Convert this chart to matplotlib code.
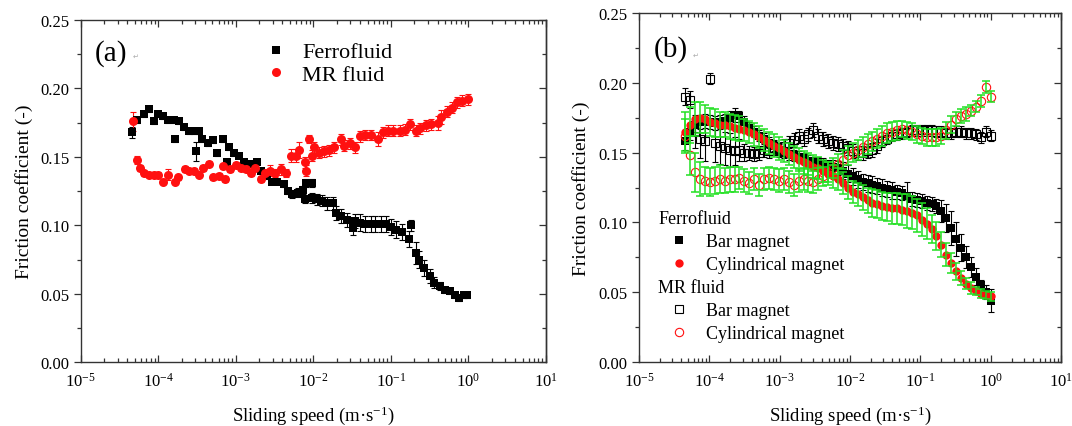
import numpy as np
import matplotlib
matplotlib.use("Agg")
import matplotlib.pyplot as plt
from matplotlib.ticker import (FixedLocator, LogFormatterMathtext, NullFormatter,
                               MultipleLocator, FormatStrFormatter)

# Times-like look for everything, including the 10^x tick labels
plt.rcParams['font.family'] = ['Liberation Serif', 'DejaVu Serif']
plt.rcParams['mathtext.fontset'] = 'custom'
plt.rcParams['mathtext.rm'] = 'Liberation Serif'
plt.rcParams['mathtext.it'] = 'Liberation Serif:italic'
plt.rcParams['mathtext.bf'] = 'Liberation Serif:bold'

# decades shown on the speed axis
decades = [1e-5, 1e-4, 1e-3, 1e-2, 1e-1, 1e0, 1e1]

# ---------------- panel (a): log10 of sliding speed, friction, error ----------------
ff_a_exp = [-4.34, -4.27, -4.19, -4.12, -4.06, -4.00, -3.94, -3.87, -3.80, -3.78,
            -3.73, -3.67, -3.60, -3.54, -3.51, -3.48, -3.43, -3.36, -3.29, -3.24,
            -3.16, -3.11, -3.09, -3.02, -2.96, -2.89, -2.82, -2.73, -2.67, -2.60,
            -2.53, -2.47, -2.38, -2.33, -2.27, -2.20, -2.13, -2.11, -2.09, -2.02,
            -2.02, -1.95, -1.89, -1.82, -1.75, -1.71, -1.64, -1.57, -1.49, -1.46,
            -1.40, -1.33, -1.26, -1.20, -1.13, -1.06, -1.00, -0.93, -0.86, -0.77,
            -0.74, -0.68, -0.64, -0.57, -0.50, -0.44, -0.37, -0.30, -0.24, -0.17,
            -0.125, -0.06, -0.015]
ff_a_mu = [0.168, 0.177, 0.181, 0.185, 0.176, 0.181, 0.180, 0.177, 0.177, 0.163,
           0.176, 0.172, 0.169, 0.169, 0.154, 0.169, 0.163, 0.160, 0.162, 0.153,
           0.163, 0.146, 0.157, 0.153, 0.151, 0.146, 0.145, 0.146, 0.140, 0.136,
           0.132, 0.132, 0.130, 0.125, 0.123, 0.124, 0.126, 0.119, 0.131, 0.131,
           0.120, 0.119, 0.118, 0.116, 0.116, 0.109, 0.107, 0.104, 0.098, 0.103,
           0.102, 0.101, 0.101, 0.101, 0.101, 0.101, 0.099, 0.097, 0.095, 0.090,
           0.100, 0.080, 0.075, 0.069, 0.063, 0.058, 0.056, 0.053, 0.052, 0.049,
           0.047, 0.049, 0.049]
ff_a_err = [0.004, 0.002, 0.002, 0.002, 0.002, 0.002, 0.002, 0.002, 0.002, 0.002,
            0.002, 0.002, 0.002, 0.002, 0.007, 0.002, 0.002, 0.002, 0.002, 0.002,
            0.002, 0.002, 0.002, 0.002, 0.002, 0.002, 0.002, 0.002, 0.002, 0.002,
            0.002, 0.002, 0.002, 0.002, 0.003, 0.003, 0.003, 0.003, 0.003, 0.003,
            0.004, 0.004, 0.004, 0.005, 0.005, 0.005, 0.005, 0.005, 0.005, 0.005,
            0.006, 0.006, 0.006, 0.006, 0.006, 0.006, 0.006, 0.006, 0.006, 0.006,
            0.004, 0.008, 0.006, 0.006, 0.005, 0.004, 0.003, 0.002, 0.002, 0.002,
            0.002, 0.002, 0.002]

mr_a_exp = [-4.33, -4.27, -4.24, -4.18, -4.12, -4.05, -4.00, -3.94, -3.87, -3.78,
            -3.74, -3.66, -3.60, -3.54, -3.47, -3.42, -3.35, -3.29, -3.22, -3.17,
            -3.14, -3.07, -3.00, -2.93, -2.87, -2.80, -2.75, -2.68, -2.62, -2.56,
            -2.49, -2.42, -2.35, -2.29, -2.22, -2.18, -2.11, -2.09, -2.05, -2.02,
            -1.99, -1.93, -1.86, -1.80, -1.73, -1.64, -1.60, -1.53, -1.46, -1.40,
            -1.33, -1.26, -1.17, -1.10, -1.04, -0.97, -0.88, -0.82, -0.75, -0.68,
            -0.62, -0.55, -0.48, -0.39, -0.35, -0.28, -0.21, -0.15, -0.08, -0.01]
mr_a_mu = [0.176, 0.148, 0.142, 0.138, 0.137, 0.137, 0.137, 0.132, 0.137, 0.132,
           0.135, 0.141, 0.140, 0.140, 0.137, 0.142, 0.145, 0.135, 0.136, 0.143,
           0.134, 0.141, 0.144, 0.142, 0.141, 0.138, 0.142, 0.134, 0.138, 0.140,
           0.138, 0.141, 0.138, 0.151, 0.151, 0.155, 0.146, 0.140, 0.163, 0.151,
           0.157, 0.153, 0.154, 0.155, 0.157, 0.163, 0.158, 0.160, 0.157, 0.165,
           0.166, 0.166, 0.163, 0.168, 0.169, 0.169, 0.169, 0.170, 0.174, 0.169,
           0.171, 0.173, 0.174, 0.175, 0.179, 0.183, 0.186, 0.190, 0.191, 0.192]
mr_a_err = [0.007, 0.003, 0.002, 0.002, 0.002, 0.002, 0.002, 0.002, 0.004, 0.002,
            0.002, 0.002, 0.002, 0.002, 0.002, 0.002, 0.002, 0.002, 0.002, 0.002,
            0.002, 0.002, 0.002, 0.002, 0.002, 0.002, 0.002, 0.002, 0.003, 0.004,
            0.003, 0.004, 0.003, 0.005, 0.005, 0.006, 0.004, 0.004, 0.003, 0.004,
            0.004, 0.004, 0.004, 0.004, 0.004, 0.004, 0.004, 0.004, 0.004, 0.004,
            0.004, 0.004, 0.005, 0.004, 0.004, 0.004, 0.004, 0.004, 0.004, 0.004,
            0.004, 0.004, 0.004, 0.005, 0.005, 0.004, 0.004, 0.004, 0.004, 0.004]

# ---------------- panel (b): four sweeps on a common speed grid ----------------
b_exp = [-4.34, -4.27, -4.20, -4.13, -4.06, -3.99, -3.92, -3.85, -3.78, -3.71,
         -3.64, -3.57, -3.50, -3.43, -3.36, -3.29, -3.22, -3.15, -3.08, -3.01,
         -2.94, -2.87, -2.80, -2.73, -2.66, -2.59, -2.52, -2.45, -2.38, -2.31,
         -2.24, -2.17, -2.10, -2.03, -1.96, -1.89, -1.82, -1.75, -1.68, -1.61,
         -1.54, -1.47, -1.40, -1.33, -1.26, -1.19, -1.12, -1.05, -0.98, -0.91,
         -0.84, -0.77, -0.70, -0.63, -0.56, -0.49, -0.42, -0.35, -0.28, -0.21,
         -0.14, -0.07, 0.00]

ff_bar_b = [0.158, 0.165, 0.170, 0.172, 0.173, 0.172, 0.171, 0.172, 0.173, 0.175,
            0.177, 0.176, 0.172, 0.168, 0.165, 0.162, 0.160, 0.157, 0.155, 0.152,
            0.150, 0.149, 0.148, 0.147, 0.146, 0.144, 0.143, 0.143, 0.142, 0.141,
            0.140, 0.139, 0.137, 0.135, 0.133, 0.131, 0.129, 0.128, 0.127, 0.126,
            0.125, 0.124, 0.123, 0.122, 0.121, 0.119, 0.117, 0.116, 0.115, 0.114,
            0.113, 0.112, 0.108, 0.103, 0.096, 0.088, 0.082, 0.075, 0.068, 0.061,
            0.055, 0.050, 0.044]
ff_bar_err_b = [0.006, 0.006, 0.005, 0.005, 0.005, 0.005, 0.005, 0.005, 0.005, 0.005,
                0.005, 0.004, 0.004, 0.004, 0.004, 0.004, 0.004, 0.004, 0.004, 0.004,
                0.004, 0.004, 0.004, 0.004, 0.004, 0.004, 0.004, 0.004, 0.004, 0.004,
                0.005, 0.005, 0.006, 0.006, 0.006, 0.006, 0.006, 0.006, 0.006, 0.006,
                0.006, 0.006, 0.006, 0.005, 0.005, 0.010, 0.005, 0.005, 0.005, 0.005,
                0.005, 0.005, 0.008, 0.010, 0.012, 0.012, 0.010, 0.008, 0.007, 0.006,
                0.004, 0.005, 0.008]

ff_cyl_b = [0.165, 0.170, 0.174, 0.175, 0.174, 0.172, 0.171, 0.170, 0.170, 0.169,
            0.168, 0.167, 0.166, 0.165, 0.163, 0.161, 0.159, 0.157, 0.155, 0.153,
            0.151, 0.149, 0.147, 0.145, 0.143, 0.142, 0.140, 0.139, 0.137, 0.135,
            0.133, 0.131, 0.128, 0.125, 0.122, 0.120, 0.118, 0.116, 0.114, 0.113,
            0.112, 0.111, 0.110, 0.110, 0.109, 0.108, 0.107, 0.105, 0.102, 0.099,
            0.095, 0.090, 0.084, 0.077, 0.071, 0.065, 0.060, 0.056, 0.053, 0.051,
            0.049, 0.048, 0.047]
ff_cyl_err_b = [0.014, 0.013, 0.012, 0.011, 0.010, 0.010, 0.010, 0.009, 0.009, 0.009,
                0.009, 0.009, 0.008, 0.008, 0.008, 0.008, 0.008, 0.008, 0.008, 0.008,
                0.008, 0.008, 0.008, 0.008, 0.008, 0.008, 0.008, 0.008, 0.008, 0.008,
                0.008, 0.008, 0.008, 0.008, 0.008, 0.008, 0.009, 0.009, 0.010, 0.010,
                0.010, 0.010, 0.011, 0.011, 0.011, 0.012, 0.012, 0.012, 0.012, 0.011,
                0.010, 0.010, 0.009, 0.008, 0.007, 0.006, 0.005, 0.004, 0.004, 0.003,
                0.003, 0.003, 0.003]

mr_bar_b = [0.190, 0.188, 0.165, 0.160, 0.158, 0.203, 0.157, 0.155, 0.153, 0.152,
            0.151, 0.152, 0.150, 0.150, 0.149, 0.150, 0.152, 0.151, 0.153, 0.152,
            0.155, 0.157, 0.159, 0.162, 0.160, 0.163, 0.166, 0.162, 0.160, 0.158,
            0.157, 0.156, 0.155, 0.153, 0.151, 0.150, 0.150, 0.151, 0.152, 0.155,
            0.158, 0.160, 0.162, 0.163, 0.164, 0.165, 0.166, 0.166, 0.166, 0.166,
            0.166, 0.165, 0.165, 0.164, 0.164, 0.165, 0.165, 0.164, 0.164, 0.163,
            0.161, 0.165, 0.162]
mr_bar_err_b = [0.006, 0.006, 0.012, 0.014, 0.014, 0.004, 0.014, 0.013, 0.012, 0.012,
                0.010, 0.008, 0.006, 0.005, 0.005, 0.005, 0.005, 0.005, 0.005, 0.005,
                0.005, 0.005, 0.005, 0.005, 0.005, 0.005, 0.005, 0.005, 0.005, 0.005,
                0.005, 0.005, 0.005, 0.005, 0.005, 0.005, 0.005, 0.005, 0.005, 0.005,
                0.004, 0.004, 0.004, 0.004, 0.004, 0.004, 0.004, 0.004, 0.004, 0.004,
                0.004, 0.004, 0.004, 0.004, 0.004, 0.004, 0.004, 0.004, 0.004, 0.004,
                0.004, 0.004, 0.004]

mr_cyl_b = [0.162, 0.148, 0.136, 0.131, 0.130, 0.129, 0.130, 0.131, 0.130, 0.131,
            0.131, 0.132, 0.130, 0.128, 0.131, 0.127, 0.131, 0.132, 0.131, 0.130,
            0.131, 0.129, 0.127, 0.130, 0.131, 0.130, 0.129, 0.131, 0.133, 0.136,
            0.139, 0.142, 0.145, 0.148, 0.150, 0.152, 0.154, 0.156, 0.158, 0.160,
            0.162, 0.164, 0.165, 0.166, 0.167, 0.166, 0.165, 0.163, 0.162, 0.161,
            0.161, 0.161, 0.162, 0.166, 0.170, 0.174, 0.176, 0.178, 0.180, 0.183,
            0.187, 0.197, 0.190]
mr_cyl_err_b = [0.012, 0.014, 0.014, 0.012, 0.010, 0.010, 0.010, 0.010, 0.009, 0.009,
                0.009, 0.008, 0.008, 0.008, 0.008, 0.008, 0.008, 0.008, 0.008, 0.008,
                0.008, 0.008, 0.008, 0.008, 0.008, 0.008, 0.008, 0.008, 0.007, 0.007,
                0.007, 0.007, 0.007, 0.007, 0.007, 0.007, 0.007, 0.007, 0.007, 0.007,
                0.007, 0.007, 0.007, 0.007, 0.006, 0.006, 0.006, 0.006, 0.006, 0.006,
                0.006, 0.006, 0.006, 0.006, 0.006, 0.005, 0.005, 0.005, 0.004, 0.004,
                0.004, 0.004, 0.004]

AXIS_COLOR = '#333333'
GREEN = '#22e022'
RED = '#ff1010'


def style_axes(ax, ylabelpad):
    # log speed axis, ticks inward on bottom/top
    ax.set_xscale('log')
    ax.set_xlim(decades[0], decades[-1])
    ax.set_ylim(0, 0.25)
    minor = [d * k for d in decades[:-1] for k in range(2, 10)]
    ax.xaxis.set_major_locator(FixedLocator(decades))
    ax.xaxis.set_minor_locator(FixedLocator(minor))
    ax.xaxis.set_major_formatter(LogFormatterMathtext())
    ax.xaxis.set_minor_formatter(NullFormatter())
    ax.yaxis.set_major_locator(MultipleLocator(0.05))
    ax.yaxis.set_minor_locator(MultipleLocator(0.025))
    ax.yaxis.set_major_formatter(FormatStrFormatter('%.2f'))
    ax.tick_params(axis='x', which='both', direction='in', top=True,
                   labelsize=12, pad=7, color=AXIS_COLOR, width=0.9)
    ax.tick_params(axis='y', which='both', direction='out', right=False,
                   labelsize=12, pad=3, color=AXIS_COLOR, width=0.9)
    ax.tick_params(which='major', length=5)
    ax.tick_params(which='minor', length=3)
    # right side ticks point inward (left side points out)
    sec = ax.secondary_yaxis('right')
    sec.yaxis.set_major_locator(MultipleLocator(0.05))
    sec.yaxis.set_minor_locator(MultipleLocator(0.025))
    sec.tick_params(which='both', direction='in', labelright=False,
                    color=AXIS_COLOR, width=0.9)
    sec.tick_params(which='major', length=5)
    sec.tick_params(which='minor', length=3)
    sec.spines['right'].set_color(AXIS_COLOR)
    sec.spines['right'].set_linewidth(1.0)
    for s in ax.spines.values():
        s.set_color(AXIS_COLOR)
        s.set_linewidth(1.0)
    ax.set_xlabel('Sliding speed (m·s$^{-1}$)', fontsize=13.5, labelpad=10)
    ax.set_ylabel('Friction coefficient (-)', fontsize=14, labelpad=ylabelpad)


fig = plt.figure(figsize=(10.72, 4.27), dpi=100)
ax_a = fig.add_axes([0.0753, 0.149, 0.434, 0.802])
ax_b = fig.add_axes([0.596, 0.150, 0.3937, 0.817])

# ---------------- panel (a) ----------------
ff_a_x = 10 ** np.array(ff_a_exp)
mr_a_x = 10 ** np.array(mr_a_exp)
err_kw = dict(fmt='none', elinewidth=0.8, capsize=2.5, capthick=0.8)
ax_a.errorbar(ff_a_x, ff_a_mu, yerr=ff_a_err, ecolor='black', zorder=2, **err_kw)
ax_a.errorbar(mr_a_x, mr_a_mu, yerr=mr_a_err, ecolor=RED, zorder=2, **err_kw)
h_ff, = ax_a.plot(ff_a_x, ff_a_mu, 's', ms=6, color='black', mew=0, label='Ferrofluid', zorder=3)
h_mr, = ax_a.plot(mr_a_x, mr_a_mu, 'o', ms=6.5, color=RED, mew=0, label='MR fluid', zorder=3)
style_axes(ax_a, ylabelpad=5)
ax_a.legend(handles=[h_ff, h_mr], loc='upper left', bbox_to_anchor=(0.395, 0.936),
            frameon=False, fontsize=16, handlelength=1.0, handletextpad=0.69,
            borderpad=0, borderaxespad=0, labelspacing=0.1)
ax_a.text(0.030, 0.906, '(a)', transform=ax_a.transAxes, fontsize=21, va='center')
ax_a.text(0.112, 0.895, '↵', transform=ax_a.transAxes, fontsize=5, color='#aaaaaa',
          family=['DejaVu Sans'], va='center')

# ---------------- panel (b) ----------------
x_b = 10 ** np.array(b_exp)
ax_b.errorbar(x_b, mr_bar_b, yerr=mr_bar_err_b, ecolor='black', zorder=2, **err_kw)
ax_b.errorbar(x_b, ff_bar_b, yerr=ff_bar_err_b, ecolor='black', zorder=2, **err_kw)
h_mr_bar, = ax_b.plot(x_b, mr_bar_b, 's', ms=6, mfc='none', mec='black', mew=0.8, zorder=2.1)
h_ff_bar, = ax_b.plot(x_b, ff_bar_b, 's', ms=6, color='black', mew=0, zorder=2.1)
h_ff_cyl, = ax_b.plot(x_b, ff_cyl_b, 'o', ms=6, color=RED, mew=0, zorder=2.2)
h_mr_cyl, = ax_b.plot(x_b, mr_cyl_b, 'o', ms=6, mfc='none', mec=RED, mew=0.8, zorder=2.2)
green_kw = dict(fmt='none', elinewidth=1.1, capsize=3, capthick=1.1, ecolor=GREEN, zorder=2.5)
ax_b.errorbar(x_b, ff_cyl_b, yerr=ff_cyl_err_b, **green_kw)
ax_b.errorbar(x_b, mr_cyl_b, yerr=mr_cyl_err_b, **green_kw)
style_axes(ax_b, ylabelpad=6)

leg_kw = dict(loc='upper left', frameon=False, fontsize=13, title_fontsize=13,
              alignment='left', handlelength=2.26, handletextpad=0.37,
              borderpad=0, borderaxespad=0, labelspacing=0.34)
leg1 = ax_b.legend(handles=[h_ff_bar, h_ff_cyl], labels=['Bar magnet', 'Cylindrical magnet'],
                   title='Ferrofluid', bbox_to_anchor=(0.046, 0.436), **leg_kw)
ax_b.add_artist(leg1)
ax_b.legend(handles=[h_mr_bar, h_mr_cyl], labels=['Bar magnet', 'Cylindrical magnet'],
            title='MR fluid', bbox_to_anchor=(0.046, 0.238), **leg_kw)
ax_b.text(0.035, 0.897, '(b)', transform=ax_b.transAxes, fontsize=21, va='center')
ax_b.text(0.128, 0.88, '↵', transform=ax_b.transAxes, fontsize=5, color='#aaaaaa',
          family=['DejaVu Sans'], va='center')

fig.savefig('out.png', dpi=100)
